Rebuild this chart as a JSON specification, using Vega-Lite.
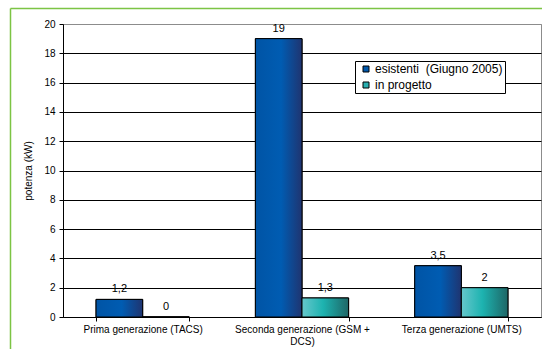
{
  "$schema": "https://vega.github.io/schema/vega-lite/v6.json",
  "width": 478,
  "height": 293,
  "autosize": {"type": "none"},
  "padding": {"left": 63, "top": 24, "right": 1, "bottom": 32},
  "background": "#ffffff",
  "config": {
    "font": "Liberation Sans",
    "view": {"stroke": "#8c8c8c", "strokeWidth": 1},
    "locale": {
      "number": {"decimal": ",", "thousands": ".", "grouping": [3], "currency": ["", " €"]}
    }
  },
  "data": {
    "values": [
      {"generazione": "Prima generazione (TACS)", "serie": "esistenti \u00a0(Giugno 2005)", "potenza": 1.2},
      {"generazione": "Prima generazione (TACS)", "serie": "in progetto", "potenza": 0},
      {"generazione": "Seconda generazione (GSM + DCS)", "serie": "esistenti \u00a0(Giugno 2005)", "potenza": 19},
      {"generazione": "Seconda generazione (GSM + DCS)", "serie": "in progetto", "potenza": 1.3},
      {"generazione": "Terza generazione (UMTS)", "serie": "esistenti \u00a0(Giugno 2005)", "potenza": 3.5},
      {"generazione": "Terza generazione (UMTS)", "serie": "in progetto", "potenza": 2}
    ]
  },
  "layer": [
    {
      "encoding": {
        "x": {
          "field": "generazione",
          "type": "nominal",
          "sort": null,
          "scale": {"paddingInner": 0.415, "paddingOuter": 0.2075},
          "axis": {
            "title": null,
            "tickBand": "extent",
            "labelAngle": 0,
            "labelFontSize": 10,
            "labelColor": "#000000",
            "labelLimit": 0,
            "labelPadding": 3,
            "labelLineHeight": 12,
            "labelExpr": "datum.value === 'Seconda generazione (GSM + DCS)' ? ['Seconda generazione (GSM +', 'DCS)'] : datum.value",
            "domainColor": "#000000",
            "tickColor": "#000000",
            "tickSize": 4,
            "grid": false
          }
        },
        "xOffset": {
          "field": "serie",
          "type": "nominal",
          "scale": {"domain": ["esistenti \u00a0(Giugno 2005)", "in progetto"], "paddingInner": 0, "paddingOuter": 0}
        },
        "y": {
          "field": "potenza",
          "type": "quantitative",
          "scale": {"domain": [0, 20], "nice": false},
          "axis": {
            "title": "potenza (kW)",
            "titleFontSize": 10,
            "titleFontWeight": "normal",
            "titleColor": "#000000",
            "titlePadding": 10,
            "values": [0, 2, 4, 6, 8, 10, 12, 14, 16, 18, 20],
            "labelFontSize": 10,
            "labelColor": "#000000",
            "labelPadding": 4,
            "domainColor": "#000000",
            "tickColor": "#000000",
            "tickSize": 4,
            "grid": true,
            "gridColor": {"condition": {"test": "datum.value === 20", "value": "#8c8c8c"}, "value": "#000000"},
            "gridOpacity": 1
          }
        }
      },
      "layer": [
        {
          "mark": {"type": "bar", "stroke": "#000000", "strokeWidth": 1},
          "encoding": {
            "color": {
              "field": "serie",
              "type": "nominal",
              "scale": {"domain": ["esistenti \u00a0(Giugno 2005)", "in progetto"], "range": ["#0057AA", "#2AAFB0"]},
              "legend": {
                "title": null,
                "orient": "none",
                "legendX": 292,
                "legendY": 37,
                "direction": "vertical",
                "fillColor": "#ffffff",
                "strokeColor": "#000000",
                "padding": 2,
                "rowPadding": 4,
                "symbolType": "square",
                "symbolSize": 36,
                "symbolOffset": 3,
                "symbolStrokeColor": "#000000",
                "symbolStrokeWidth": 1,
                "labelFontSize": 12,
                "labelColor": "#000000",
                "labelOffset": 3,
                "labelLimit": 0
              }
            }
          }
        },
        {
          "transform": [{"filter": "datum.serie !== 'in progetto'"}],
          "mark": {
            "type": "bar",
            "stroke": "#000000",
            "strokeWidth": 1,
            "fill": {
              "gradient": "linear",
              "x1": 0, "y1": 0, "x2": 1, "y2": 0,
              "stops": [
                {"offset": 0, "color": "#0054A5"},
                {"offset": 0.55, "color": "#005CB2"},
                {"offset": 1, "color": "#1F3470"}
              ]
            }
          }
        },
        {
          "transform": [{"filter": "datum.serie === 'in progetto'"}],
          "mark": {
            "type": "bar",
            "stroke": "#000000",
            "strokeWidth": 1,
            "fill": {
              "gradient": "linear",
              "x1": 0, "y1": 0, "x2": 1, "y2": 0,
              "stops": [
                {"offset": 0, "color": "#66C7CC"},
                {"offset": 0.45, "color": "#1DB3B0"},
                {"offset": 1, "color": "#1E6666"}
              ]
            }
          }
        },
        {
          "mark": {"type": "text", "baseline": "bottom", "dy": -5, "fontSize": 11, "color": "#000000"},
          "encoding": {
            "text": {"field": "potenza", "type": "quantitative", "format": ".1~f"}
          }
        }
      ]
    },
    {
      "mark": {"type": "rule", "opacity": 0},
      "encoding": {
        "x": {
          "datum": 0,
          "type": "quantitative",
          "scale": {"domain": [0, 1], "range": [-53, 480], "nice": false, "zero": false},
          "axis": {"orient": "top", "offset": 16, "title": null, "labels": false, "ticks": false, "grid": false, "domainColor": "#7CC444", "domainWidth": 1.5}
        },
        "y": {
          "datum": 0,
          "type": "quantitative",
          "scale": {"domain": [0, 1], "range": [326, -16], "nice": false, "zero": false},
          "axis": {"orient": "left", "offset": 53, "title": null, "labels": false, "ticks": false, "grid": false, "domainColor": "#7CC444", "domainWidth": 1.5}
        }
      }
    }
  ],
  "resolve": {
    "scale": {"x": "independent", "y": "independent"},
    "axis": {"x": "independent", "y": "independent"}
  }
}
